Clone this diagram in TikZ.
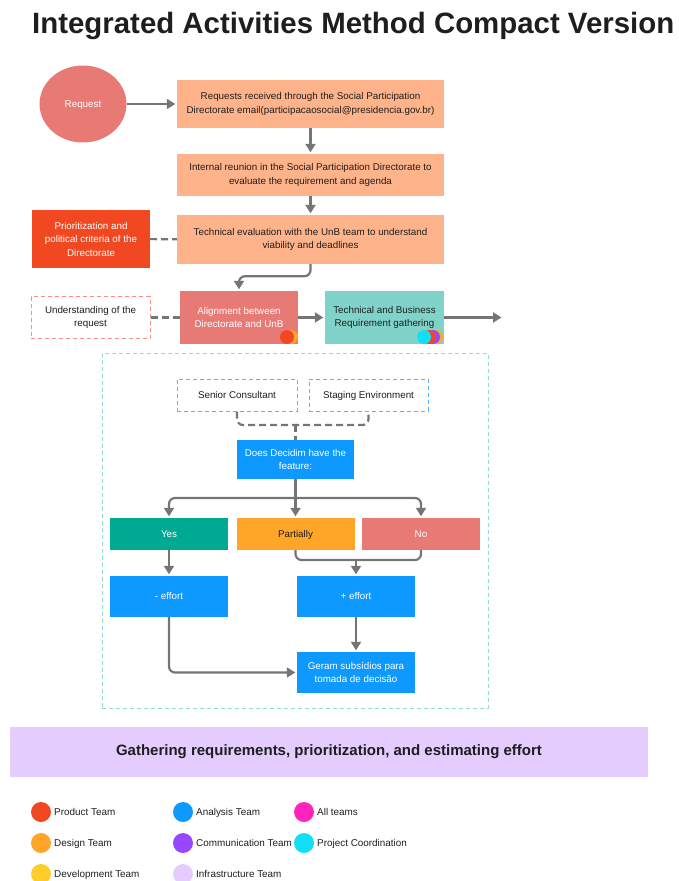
\documentclass[tikz,border=0pt]{standalone}
\usepackage{fontspec}
\setmainfont{Liberation Sans}
\usetikzlibrary{arrows.meta,shapes.geometric}

\definecolor{peach}{HTML}{FFB38A}
\definecolor{salmon}{HTML}{E87A76}
\definecolor{prodred}{HTML}{F24822}
\definecolor{mint}{HTML}{80D3C9}
\definecolor{yesgreen}{HTML}{00A991}
\definecolor{skyblue}{HTML}{0D99FF}
\definecolor{amber}{HTML}{FFA629}
\definecolor{gold}{HTML}{FFCD29}
\definecolor{violet}{HTML}{9747FF}
\definecolor{lilac}{HTML}{E4CCFF}
\definecolor{magenta}{HTML}{FF24BD}
\definecolor{cyanish}{HTML}{0FE0F5}
\definecolor{linegray}{HTML}{757575}
\definecolor{ink}{HTML}{1E1E1E}
\definecolor{frame}{HTML}{8FDCCF}
\definecolor{dashblue}{HTML}{5AB4FF}
\definecolor{dashpink}{HTML}{F28E8E}

\tikzset{
  box/.style={rectangle, inner sep=0pt, align=center, text=ink,
    font=\fontsize{9.8}{13.5}\selectfont},
  oneline/.style={text height=7pt, text depth=0.4pt},
  arr/.style={draw=linegray, line width=2.2pt,
    -{Triangle[width=10pt,length=8.5pt]}, shorten >=1.5pt},
  link/.style={draw=linegray, line width=2.2pt},
  dlink/.style={draw=linegray, line width=2.2pt, dash pattern=on 7pt off 4pt},
  dot/.style={circle, inner sep=0pt, minimum size=14pt},
  legdot/.style={circle, inner sep=0pt, minimum size=20pt},
  legtext/.style={anchor=base west, inner sep=0pt, text=ink,
    font=\fontsize{9.9}{11}\selectfont},
}

\begin{document}
\begin{tikzpicture}[x=1pt,y=-1pt]
\useasboundingbox (0,0) rectangle (679,881);

% title
\node[anchor=base west, inner sep=0pt, text=ink,
  font=\fontsize{29.4}{30}\selectfont\bfseries] (title) at (32,33)
  {Integrated Activities Method Compact Version};

% request intake chain
\node[ellipse, fill=salmon, minimum width=87pt, minimum height=77pt, oneline,
  inner sep=0pt, text=white, font=\fontsize{9.8}{11}\selectfont] (req) at (83,104) {Request};
\node[box, fill=peach, minimum width=267pt, minimum height=48pt] (b1) at (310.5,104)
  {Requests received through the Social Participation\\Directorate email(participacaosocial@presidencia.gov.br)};
\node[box, fill=peach, minimum width=267pt, minimum height=42pt] (b2) at (310.5,175)
  {Internal reunion in the Social Participation Directorate to\\evaluate the requirement and agenda};
\node[box, fill=peach, minimum width=267pt, minimum height=49pt] (b3) at (310.5,239.5)
  {Technical evaluation with the UnB team to understand\\viability and deadlines};
\node[box, fill=prodred, text=white, minimum width=118pt, minimum height=58pt] (prio) at (91,239)
  {Prioritization and\\political criteria of the\\Directorate};
\node[box, fill=white, draw=dashpink, line width=1pt, dash pattern=on 4pt off 3pt,
  minimum width=119pt, minimum height=42pt] (under) at (90.5,317.5)
  {Understanding of the\\request};
\node[box, fill=salmon, text=white, minimum width=118pt, minimum height=53pt] (align) at (239,317.5)
  {Alignment between\\Directorate and UnB};
\node[box, fill=mint, minimum width=119pt, minimum height=53pt] (tech) at (384.5,317.5)
  {Technical and Business\\Requirement gathering};
\coordinate (out) at (503,317.5);

% team markers
\node[dot, fill=amber] (a2) at (291,337) {};
\node[dot, fill=prodred] (a1) at (287,337) {};
\node[dot, fill=amber] (t4) at (436,337) {};
\node[dot, fill=violet] (t3) at (433,337) {};
\node[dot, fill=prodred] (t2) at (429,337) {};
\node[dot, fill=cyanish] (t1) at (424,337) {};

\draw[arr] (req) -- (b1);
\draw[arr] (b1) -- (b2);
\draw[arr] (b2) -- (b3);
\draw[dlink] (prio) -- (b3);
\draw[arr, rounded corners=6pt] (b3.south) -- ++(0,12) -| (align.north);
\draw[dlink] (under) -- (align);
\draw[arr] (align) -- (tech);
\draw[arr] (tech.east) -- (out);

% feature analysis block
\node[draw=frame, line width=1pt, dash pattern=on 4pt off 3pt, rectangle,
  minimum width=386pt, minimum height=355pt, inner sep=0pt] (frm) at (295,530.5) {};
\node[box, oneline, fill=white, draw=dashblue, line width=1pt, dash pattern=on 4pt off 3pt,
  minimum width=120pt, minimum height=32pt] (senior) at (237,395) {Senior Consultant};
\node[box, oneline, fill=white, draw=dashblue, line width=1pt, dash pattern=on 4pt off 3pt,
  minimum width=119pt, minimum height=32pt] (staging) at (368.5,395) {Staging Environment};
\node[box, fill=skyblue, text=white, minimum width=117pt, minimum height=39pt] (dec) at (295.5,459.5)
  {Does Decidim have the\\feature:};
\node[box, oneline, fill=yesgreen, text=white, minimum width=118pt, minimum height=32pt] (yes) at (169,534) {Yes};
\node[box, oneline, fill=amber, minimum width=118pt, minimum height=32pt] (part) at (295.5,534) {Partially};
\node[box, oneline, fill=salmon, text=white, minimum width=118pt, minimum height=32pt] (no) at (421,534) {No};
\node[box, oneline, fill=skyblue, text=white, minimum width=118pt, minimum height=41pt] (minus) at (169,596.5) {- effort};
\node[box, oneline, fill=skyblue, text=white, minimum width=118pt, minimum height=41pt] (plus) at (356,596.5) {+ effort};
\node[box, fill=skyblue, text=white, minimum width=118pt, minimum height=41pt] (geram) at (356,672.5)
  {Geram subsídios para\\tomada de decisão};

\coordinate (j1) at (295.5,425);
\coordinate (j3) at (295.5,498);
\coordinate (j2) at (356,560);

\draw[dlink, rounded corners=6pt] (senior.south) |- (j1) -| (staging.south);
\draw[dlink] (j1) -- (dec.north);
\draw[link] (dec.south) -- (j3);
\draw[arr, rounded corners=6pt] (j3) -| (yes.north);
\draw[arr, rounded corners=6pt] (j3) -| (no.north);
\draw[arr] (j3) -- (part.north);
\draw[arr] (yes) -- (minus);
\draw[link, rounded corners=6pt] (part.south) |- (j2) -| (no.south);
\draw[arr] (j2) -- (plus.north);
\draw[arr] (plus) -- (geram);
\draw[arr, rounded corners=6pt] (minus.south) |- (geram.west);

% phase banner
\node[rectangle, fill=lilac, minimum width=638pt, minimum height=50pt, inner sep=0pt,
  text=ink, font=\fontsize{15}{18}\selectfont\bfseries] (banner) at (329,752)
  {Gathering requirements, prioritization, and estimating effort};

% legend
\node[legdot, fill=prodred] (l1) at (41,812) {};
\node[legtext] (lt1) at (54,815.5) {Product Team};
\node[legdot, fill=amber] (l2) at (41,843) {};
\node[legtext] (lt2) at (54,846.5) {Design Team};
\node[legdot, fill=gold] (l3) at (41,874) {};
\node[legtext] (lt3) at (54,877.5) {Development Team};
\node[legdot, fill=skyblue] (l4) at (183,812) {};
\node[legtext] (lt4) at (196,815.5) {Analysis Team};
\node[legdot, fill=violet] (l5) at (183,843) {};
\node[legtext] (lt5) at (196,846.5) {Communication Team};
\node[legdot, fill=lilac] (l6) at (183,874) {};
\node[legtext] (lt6) at (196,877.5) {Infrastructure Team};
\node[legdot, fill=magenta] (l7) at (304,812) {};
\node[legtext] (lt7) at (317,815.5) {All teams};
\node[legdot, fill=cyanish] (l8) at (304,843) {};
\node[legtext] (lt8) at (317,846.5) {Project Coordination};
\end{tikzpicture}
\end{document}
